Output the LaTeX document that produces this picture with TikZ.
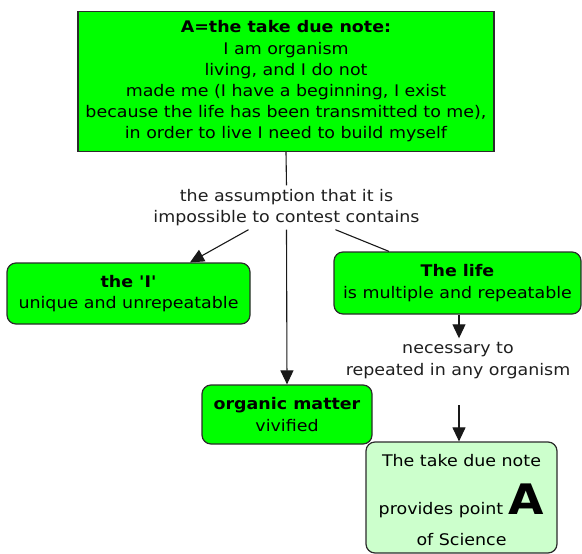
\documentclass[tikz,border=0pt]{standalone}
\usepackage{fontspec}
\setmainfont{DejaVu Sans}[FakeStretch=1.09, Ligatures=TeXOff]
\usetikzlibrary{arrows.meta}
\definecolor{concept}{HTML}{00FF00}
\definecolor{paleconcept}{HTML}{CCFFCC}
\definecolor{edge}{HTML}{2B2B2B}
\tikzset{
  base/.style={font=\fontsize{16}{21.2}\selectfont, align=center, inner sep=0pt, text=black},
  mainbox/.style={base, draw=edge, line width=1.3pt, fill=concept},
  conceptbox/.style={base, draw=edge, line width=1.2pt, fill=concept, rounded corners=9pt},
  palebox/.style={base, draw=edge, line width=1.2pt, fill=paleconcept, rounded corners=9pt},
  linklabel/.style={base, text=black!88},
  conn/.style={draw=black!90, line width=1.1pt},
  arr/.style={conn, -{Triangle[width=13pt,length=14pt]}}
}
\begin{document}
\begin{tikzpicture}[x=1pt, y=-1pt]
\useasboundingbox (0,0) rectangle (582,554);

% concepts
\node[mainbox, minimum width=416pt, minimum height=140pt] (top) at (286,81.5)
  {\textbf{A=the take due note:}\\ I am organism\\ living, and I do not\\
   made me (I have a beginning, I exist\\
   because the life has been transmitted to me),\\
   in order to live I need to build myself};

\node[conceptbox, minimum width=243pt, minimum height=61pt] (ego) at (128.5,293.5)
  {\textbf{the 'I'}\\ unique and unrepeatable};

\node[conceptbox, minimum width=247pt, minimum height=62pt] (life) at (457.5,283)
  {\textbf{The life}\\ is multiple and repeatable};

\node[conceptbox, minimum width=170pt, minimum height=59pt] (matter) at (287,414.5)
  {\textbf{organic matter}\\ vivified};

\node[palebox, minimum width=191pt, minimum height=111pt] (science) at (461.5,497.5)
  {\rule{0pt}{17pt}The take due note\\[16pt]
   provides point {\fontsize{42}{40}\selectfont\bfseries A}\\[10pt]
   of Science};

% linking phrases
\node[linklabel, minimum height=44pt] (assume) at (286.5,207.5)
  {the assumption that it is\\ impossible to contest contains};

\node[linklabel, minimum height=44pt] (needed) at (458,360.5)
  {necessary to\\ repeated in any organism};

% connectors
\draw[conn] (top.south) -- (assume.north);
\draw[arr] ([xshift=-38pt]assume.south) -- ([xshift=61.5pt]ego.north);
\draw[arr] (assume.south) -- (matter.north);
\draw[conn] ([xshift=49pt]assume.south) -- ([xshift=-68.5pt]life.north);
\draw[arr] ([xshift=1.5pt]life.south) -- ([xshift=1pt]needed.north);
\draw[arr] ([xshift=1pt,yshift=-22.5pt]needed.south) -- ([xshift=-2.5pt]science.north);
\end{tikzpicture}
\end{document}
